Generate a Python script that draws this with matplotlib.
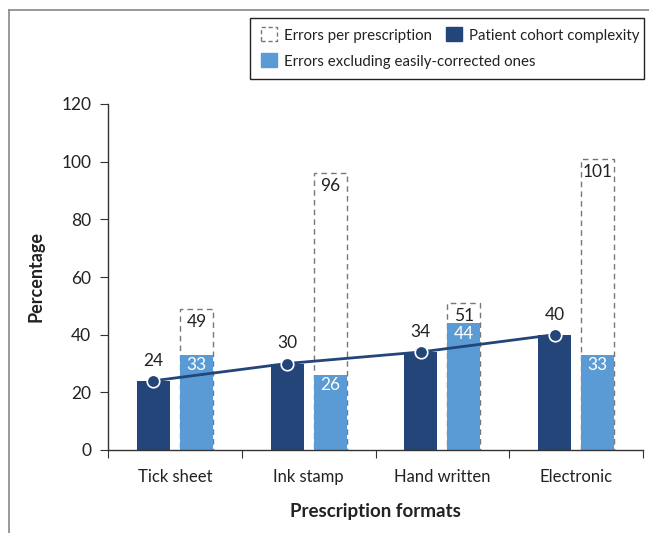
import matplotlib
matplotlib.use("Agg")
import matplotlib.pyplot as plt
import numpy as np
from matplotlib.patches import Patch, Rectangle
from matplotlib.lines import Line2D

categories = ["Tick sheet", "Ink stamp", "Hand written", "Electronic"]
cohort_complexity = [24, 30, 34, 40]
errors_excl = [33, 26, 44, 33]
errors_per_rx = [49, 96, 51, 101]

DARK = "#23457A"
LIGHT = "#5B9BD5"
TXT = "#222222"
plt.rcParams['font.family'] = ['Lato', 'DejaVu Sans']

fig = plt.figure(figsize=(6.49, 5.33), dpi=100)
ax = fig.add_axes([108/649, 1-450/533, (643-108)/649, (450-104)/533])

x = np.arange(1, len(categories)+1)
w = 0.247
off = 0.161

ax.bar(x + off, errors_per_rx, width=w, facecolor="white", edgecolor="#777777",
       linestyle=(0, (4, 3)), linewidth=1.0, zorder=1)
ax.bar(x + off, errors_excl, width=w, color=LIGHT, zorder=2)
ax.bar(x - off, cohort_complexity, width=w, color=DARK, zorder=2)
ax.plot(x - off, cohort_complexity, color=DARK, linewidth=2, marker="o",
        markersize=9, markerfacecolor=DARK, markeredgecolor="white",
        markeredgewidth=1.2, zorder=4)

for xi, v in zip(x - off, cohort_complexity):
    ax.annotate(str(v), (xi, v), xytext=(0, 14.5), textcoords="offset points",
                ha="center", va="center", fontsize=12.5, color=TXT, zorder=5)
for xi, v in zip(x + off, errors_excl):
    ax.annotate(str(v), (xi, v), xytext=(0, -7.5), textcoords="offset points",
                ha="center", va="center", fontsize=12.5, color="white", zorder=5)
for xi, v in zip(x + off, errors_per_rx):
    ax.annotate(str(v), (xi, v), xytext=(0, -9.5), textcoords="offset points",
                ha="center", va="center", fontsize=12.5, color=TXT, zorder=5)

ax.set_xlim(0.5, len(categories)+0.5)
ax.set_ylim(0, 120)
ax.set_yticks(np.arange(0, 121, 20))
ax.set_xticks(np.arange(0.5, len(categories)+0.6, 1))
ax.set_xticklabels([])
ax.set_xticks(x, minor=True)
ax.set_xticklabels(categories, minor=True)
ax.tick_params(axis="x", which="minor", length=0, pad=14, labelsize=12, labelcolor=TXT)
ax.tick_params(axis="x", which="major", length=6, direction="out", color="#333333")
ax.tick_params(axis="y", length=6, direction="out", labelsize=12.5, labelcolor=TXT,
               color="#333333", pad=6)
for s in ["top", "right"]:
    ax.spines[s].set_visible(False)
for s in ["left", "bottom"]:
    ax.spines[s].set_color("#333333")
    ax.spines[s].set_linewidth(1.0)

ax.set_ylabel("Percentage", fontsize=13, fontweight="bold", labelpad=12, color=TXT)
fig.text((108+643)/2/649, 1-512/533, "Prescription formats", ha="center", va="center",
         fontsize=13.5, fontweight="bold", color=TXT)

# legend: frame + three positioned entries
fig.add_artist(Rectangle((250/649, 1-79/533), (644-250)/649, (79-18)/533,
                         transform=fig.transFigure, facecolor="white",
                         edgecolor=TXT, linewidth=1.0, zorder=10))
h_rx = Patch(facecolor="white", edgecolor="#777777", linestyle=(0, (3, 2)), linewidth=1.0,
             label="Errors per prescription")
h_dark = Patch(facecolor=DARK, edgecolor=DARK, label="Patient cohort complexity")
h_light = Patch(facecolor=LIGHT, edgecolor=LIGHT, label="Errors excluding easily-corrected ones")
common = dict(fontsize=10.8, frameon=False, handlelength=1.05, handleheight=1.05,
              handletextpad=0.5, borderpad=0, borderaxespad=0)
for h, px, py in [(h_rx, 261, 35), (h_dark, 446, 35), (h_light, 261, 61)]:
    lg = fig.legend(handles=[h], loc="center left",
                    bbox_to_anchor=(px/649, 1-py/533), **common)
    lg.set_zorder(11)
    for t in lg.get_texts():
        t.set_color(TXT)

# outer frame lines (top and left)
fig.add_artist(Line2D([9/649, 1], [1-10/533, 1-10/533], color="#888888", linewidth=1.2))
fig.add_artist(Line2D([9/649, 9/649], [0, 1-10/533], color="#888888", linewidth=1.2))

fig.savefig("out.png", dpi=100)
